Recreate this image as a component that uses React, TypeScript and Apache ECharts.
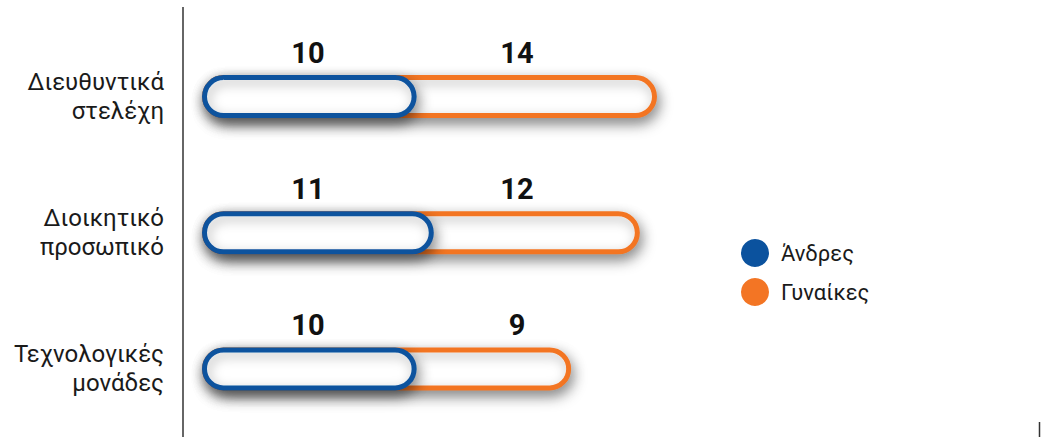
import React, { useEffect, useRef } from "react";
import * as echarts from "echarts";

const CATEGORIES = ["Διευθυντικά\nστελέχη", "Διοικητικό\nπροσωπικό", "Τεχνολογικές\nμονάδες"];
const SERIES_NAMES = ["Άνδρες", "Γυναίκες"];
const MEN = [10, 11, 10];
const WOMEN = [14, 12, 9];

const BLUE = "#0B529E";
const ORANGE = "#F37524";
const XMIN = -2.5;
const XMAX = 30;
const BAR_H = 43;
const SW = 5;
const LABEL_X = [308, 517];

function makeRender(color: string, labelX: number) {
  return (params: any, api: any) => {
    const cat = api.value(0);
    const v = api.value(1);
    const label = api.value(2);
    const start = api.coord([XMIN, cat]);
    const end = api.coord([v, cat]);
    const x0 = start[0] + SW / 2;
    const x1 = end[0] - SW / 2;
    const y = start[1] - BAR_H / 2 + SW / 2;
    const h = BAR_H - SW;
    const shape = { x: x0, y, width: x1 - x0, height: h, r: h / 2 };
    return {
      type: "group",
      children: [
        {
          type: "rect",
          shape,
          style: {
            fill: "#ffffff",
            shadowBlur: 16,
            shadowColor: "rgba(0,0,0,0.45)",
            shadowOffsetX: 3,
            shadowOffsetY: 7,
          },
        },
        {
          type: "rect",
          shape,
          style: {
            fill: "none",
            stroke: color,
            lineWidth: SW,
            shadowBlur: 12,
            shadowColor: "rgba(0,0,0,0.3)",
            shadowOffsetX: 2,
            shadowOffsetY: 4,
          },
        },
        {
          type: "text",
          x: labelX,
          y: start[1] - 44,
          style: {
            text: String(label),
            fontSize: 29,
            fontWeight: "bold",
            fontFamily: "Roboto",
            fill: "#111111",
            align: "center",
            verticalAlign: "middle",
          },
        },
      ],
    };
  };
}

export default function App() {
  const ref = useRef<HTMLDivElement>(null);
  useEffect(() => {
    if (!ref.current) return;
    const chart = echarts.init(ref.current, null, { renderer: "svg" });
    const menData = MEN.map((m, i) => [i, m, m]);
    const womenData = WOMEN.map((w, i) => [i, MEN[i] + w, w]);
    chart.setOption({
      animation: false,
      backgroundColor: "#ffffff",
      grid: { left: 202, right: 288, top: 28.5, height: 411 },
      xAxis: { type: "value", min: XMIN, max: XMAX, show: false },
      yAxis: {
        type: "category",
        data: CATEGORIES,
        inverse: true,
        axisLine: { show: false },
        axisTick: { show: false },
        splitLine: { show: false },
        axisLabel: {
          margin: 38,
          fontSize: 24,
          lineHeight: 29,
          color: "#1a1a1a",
          fontFamily: "Roboto",
          align: "right",
        },
      },
      legend: {
        orient: "vertical",
        left: 736,
        top: 234,
        itemWidth: 28,
        itemHeight: 28,
        itemGap: 11,
        icon: "circle",
        data: [
          { name: SERIES_NAMES[0], itemStyle: { color: BLUE } },
          { name: SERIES_NAMES[1], itemStyle: { color: ORANGE } },
        ],
        textStyle: {
          fontSize: 22,
          color: "#1a1a1a",
          fontFamily: "Roboto",
          padding: [0, 0, 0, 7],
        },
        selectedMode: false,
      },
      graphic: [
        {
          type: "line",
          shape: { x1: 183, y1: 7, x2: 183, y2: 437 },
          style: { stroke: "#333333", lineWidth: 1.5 },
        },
        {
          type: "line",
          shape: { x1: 1039.5, y1: 422, x2: 1039.5, y2: 437 },
          style: { stroke: "#333333", lineWidth: 1.5 },
        },
      ],
      series: [
        {
          type: "custom",
          name: SERIES_NAMES[1],
          coordinateSystem: "cartesian2d",
          itemStyle: { color: ORANGE },
          encode: { x: 1, y: 0 },
          data: womenData,
          renderItem: makeRender(ORANGE, LABEL_X[1]),
          z: 2,
        },
        {
          type: "custom",
          name: SERIES_NAMES[0],
          coordinateSystem: "cartesian2d",
          itemStyle: { color: BLUE },
          encode: { x: 1, y: 0 },
          data: menData,
          renderItem: makeRender(BLUE, LABEL_X[0]),
          z: 3,
        },
      ],
    });
    return () => chart.dispose();
  }, []);
  return (
    <div
      ref={ref}
      style={{ position: "fixed", left: 0, top: 0, width: 1048, height: 437 }}
    />
  );
}
